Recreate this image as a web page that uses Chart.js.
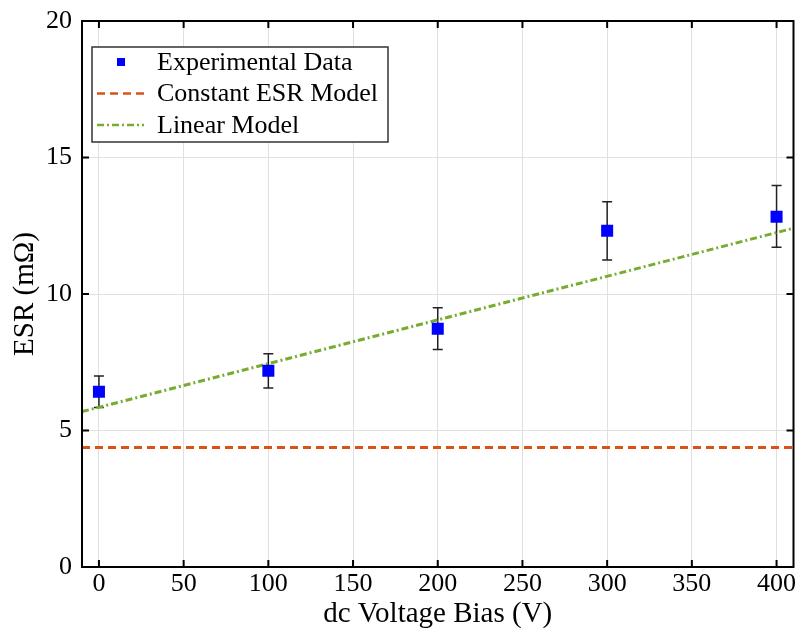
<!DOCTYPE html>
<html>
<head>
<meta charset="utf-8">
<script src="https://cdn.jsdelivr.net/npm/chart.js@4/dist/chart.umd.min.js"></script>
<style>
  html, body { margin: 0; padding: 0; background: #fff; }
  #wrap { width: 802px; height: 632px; }
</style>
</head>
<body>
<div id="wrap"><canvas id="esrChart"></canvas></div>
<script>
// measured values
const voltage = [0, 100, 200, 300, 400];
const esr = [6.42, 7.19, 8.73, 12.32, 12.83];
const esrLow = [5.84, 6.56, 7.97, 11.25, 11.71];
const esrHigh = [7.00, 7.81, 9.50, 13.38, 13.97];

// model lines (end points across the axis range)
const modelX = [-10, 410];
const constantEsr = [4.38, 4.38];
const linearEsr = [5.69, 12.41];

const xTicks = [0, 50, 100, 150, 200, 250, 300, 350, 400];
const yTicks = [0, 5, 10, 15, 20];

const serif = "'Liberation Serif', 'Times New Roman', serif";

function pairs(xs, ys) {
    return xs.map((x, i) => ({ x: x, y: ys[i] }));
}

const extras = {
    id: 'extras',
    beforeDatasetsDraw(chart) {
        // error bars, under the lines and markers
        const ctx = chart.ctx;
        const xs = chart.scales.x, ys = chart.scales.y;
        ctx.save();
        ctx.strokeStyle = '#222';
        ctx.lineWidth = 1.5;
        voltage.forEach((v, i) => {
            const px = xs.getPixelForValue(v);
            const top = ys.getPixelForValue(esrHigh[i]);
            const bot = ys.getPixelForValue(esrLow[i]);
            ctx.beginPath();
            ctx.moveTo(px, top); ctx.lineTo(px, bot);
            ctx.moveTo(px - 5, top); ctx.lineTo(px + 5, top);
            ctx.moveTo(px - 5, bot); ctx.lineTo(px + 5, bot);
            ctx.stroke();
        });
        ctx.restore();
    },
    afterDatasetsDraw(chart) {
        // box frame with inward ticks
        const ctx = chart.ctx;
        const a = chart.chartArea;
        const xs = chart.scales.x, ys = chart.scales.y;
        ctx.save();
        ctx.strokeStyle = '#000';
        ctx.lineWidth = 2;
        ctx.strokeRect(a.left, a.top, a.right - a.left, a.bottom - a.top);
        ctx.beginPath();
        xTicks.forEach(v => {
            const px = xs.getPixelForValue(v);
            ctx.moveTo(px, a.bottom); ctx.lineTo(px, a.bottom - 7);
            ctx.moveTo(px, a.top); ctx.lineTo(px, a.top + 7);
        });
        yTicks.forEach(v => {
            const py = ys.getPixelForValue(v);
            ctx.moveTo(a.left, py); ctx.lineTo(a.left + 7, py);
            ctx.moveTo(a.right, py); ctx.lineTo(a.right - 7, py);
        });
        ctx.stroke();
        ctx.restore();
    },
    afterDraw(chart) {
        // legend inside the plot, top left
        const ctx = chart.ctx;
        const a = chart.chartArea;
        const bx = a.left + 10, by = a.top + 26, bw = 296, bh = 95;
        ctx.save();
        ctx.fillStyle = '#fff';
        ctx.fillRect(bx, by, bw, bh);
        ctx.strokeStyle = '#333';
        ctx.lineWidth = 1.5;
        ctx.strokeRect(bx, by, bw, bh);
        ctx.font = '26px ' + serif;
        ctx.textBaseline = 'middle';
        chart.data.datasets.forEach((ds, i) => {
            const cy = by + 15 + i * 31.5;
            if (ds.showLine === false) {
                ctx.fillStyle = ds.backgroundColor;
                ctx.fillRect(bx + 25, cy - 4, 8, 8);
            } else {
                ctx.strokeStyle = ds.borderColor;
                ctx.lineWidth = 2.5;
                ctx.setLineDash(ds.borderDash);
                ctx.beginPath();
                ctx.moveTo(bx + 5, cy); ctx.lineTo(bx + 52, cy);
                ctx.stroke();
                ctx.setLineDash([]);
            }
            ctx.fillStyle = '#000';
            ctx.fillText(ds.label, bx + 65, cy + 1);
        });
        ctx.restore();
    }
};

const ctx = document.getElementById('esrChart').getContext('2d');
new Chart(ctx, {
    type: 'line',
    data: {
        datasets: [
            {
                label: 'Experimental Data',
                data: pairs(voltage, esr),
                showLine: false,
                pointStyle: 'rect',
                pointRadius: 8.5,
                backgroundColor: '#0000ff',
                borderColor: '#0000ff',
                borderWidth: 0,
                order: 0
            },
            {
                label: 'Constant ESR Model',
                data: pairs(modelX, constantEsr),
                borderColor: '#D95319',
                borderWidth: 3,
                borderDash: [8, 5],
                pointRadius: 0,
                fill: false,
                order: 1
            },
            {
                label: 'Linear Model',
                data: pairs(modelX, linearEsr),
                borderColor: '#77AC30',
                borderWidth: 3,
                borderDash: [7, 3, 2, 3],
                pointRadius: 0,
                fill: false,
                order: 2
            }
        ]
    },
    options: {
        responsive: true,
        maintainAspectRatio: false,
        animation: false,
        layout: { padding: { top: 21, right: 3, left: 0, bottom: 0 } },
        plugins: {
            legend: { display: false },
            tooltip: { enabled: false }
        },
        scales: {
            x: {
                type: 'linear',
                min: -10,
                max: 410,
                afterBuildTicks: s => { s.ticks = xTicks.map(v => ({ value: v })); },
                afterFit: s => { s.height = 65; s.paddingLeft = 0; s.paddingRight = 0; },
                ticks: { color: '#000', font: { family: serif, size: 26 }, padding: 2, maxRotation: 0 },
                grid: { color: '#e0e0e0', drawTicks: false },
                border: { display: false },
                title: {
                    display: true,
                    text: 'dc Voltage Bias (V)',
                    color: '#000',
                    font: { family: serif, size: 29 },
                    padding: { top: 0, bottom: 0 }
                }
            },
            y: {
                type: 'linear',
                min: 0,
                max: 20,
                afterBuildTicks: s => { s.ticks = yTicks.map(v => ({ value: v })); },
                afterFit: s => { s.width = 82; s.paddingTop = 0; s.paddingBottom = 0; },
                ticks: { color: '#000', font: { family: serif, size: 26 }, padding: 10 },
                grid: { color: '#e0e0e0', drawTicks: false },
                border: { display: false },
                title: {
                    display: true,
                    text: 'ESR (mΩ)',
                    color: '#000',
                    font: { family: serif, size: 29 },
                    padding: { top: 8, bottom: 0 }
                }
            }
        }
    },
    plugins: [extras]
});
</script>
</body>
</html>
